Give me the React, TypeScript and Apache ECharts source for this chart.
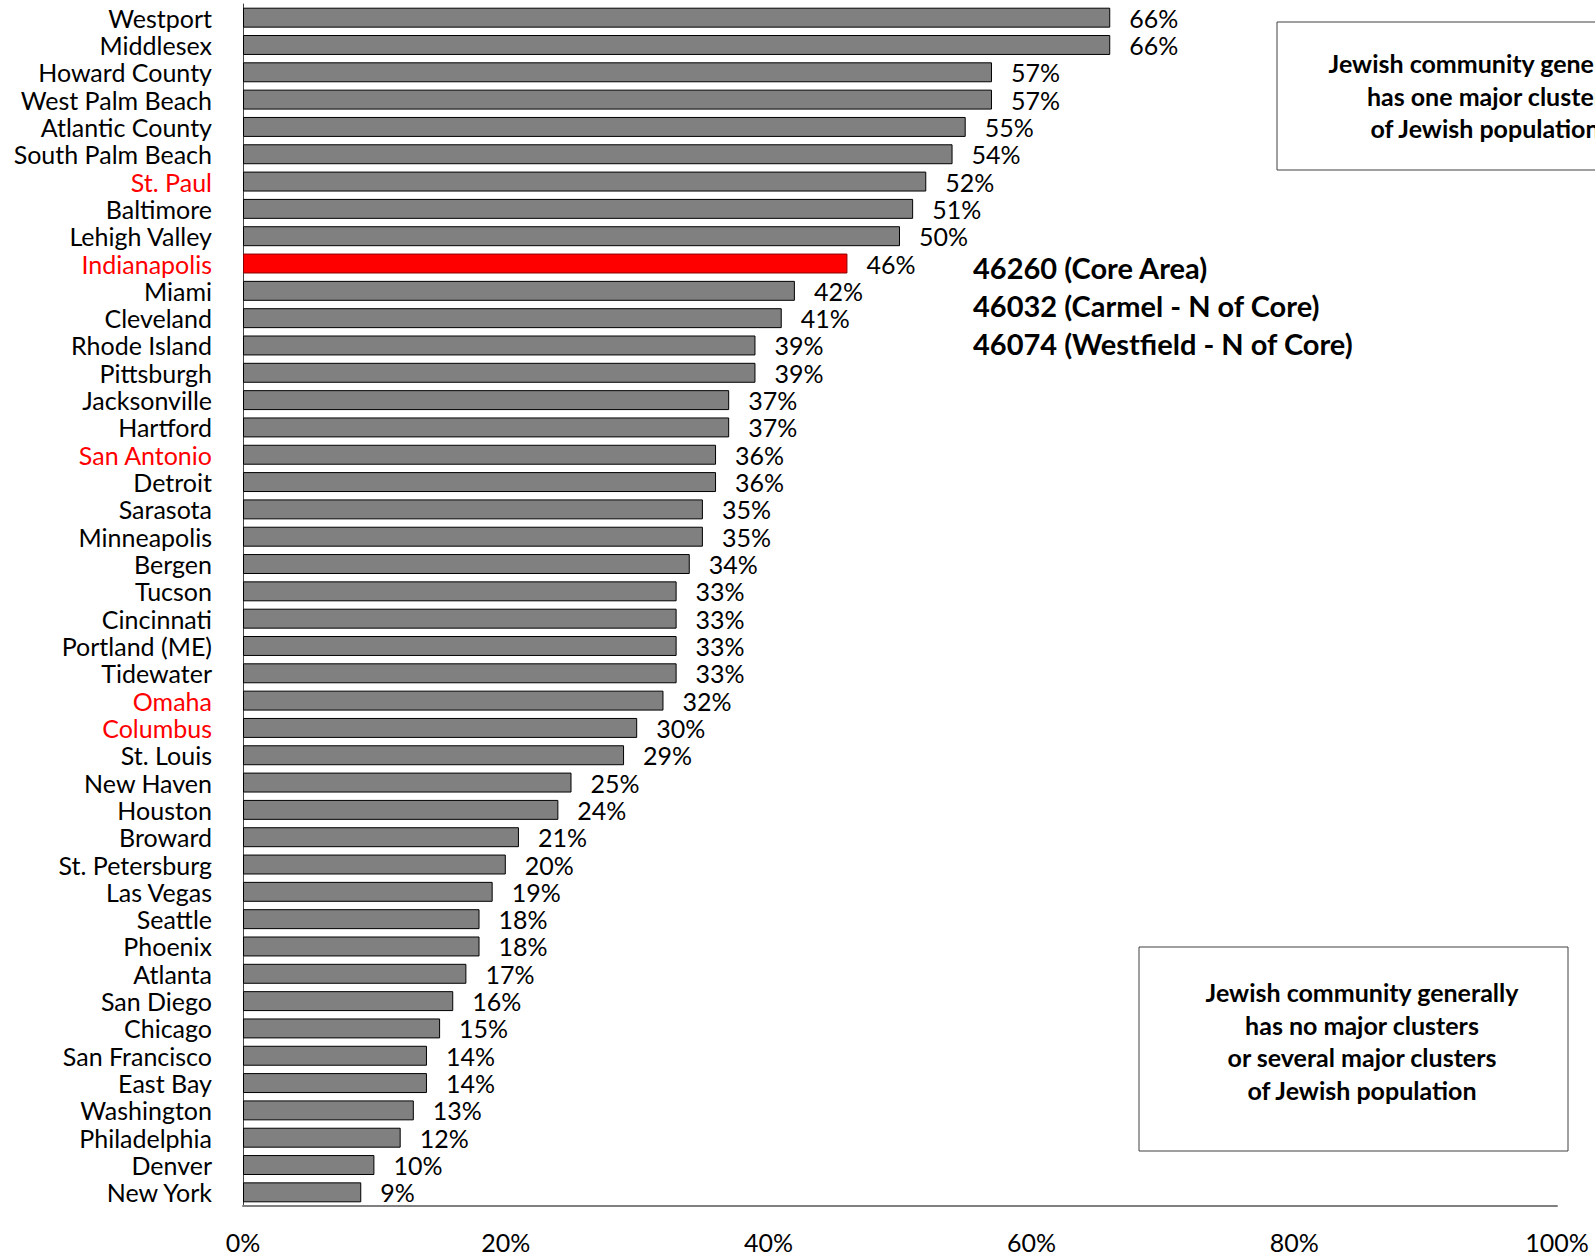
import React, { useEffect, useRef } from "react";
import * as echarts from "echarts";

const categories = [
  "Westport", "Middlesex", "Howard County", "West Palm Beach", "Atlantic County",
  "South Palm Beach", "St. Paul", "Baltimore", "Lehigh Valley", "Indianapolis",
  "Miami", "Cleveland", "Rhode Island", "Pittsburgh", "Jacksonville", "Hartford",
  "San Antonio", "Detroit", "Sarasota", "Minneapolis", "Bergen", "Tucson",
  "Cincinnati", "Portland (ME)", "Tidewater", "Omaha", "Columbus", "St. Louis",
  "New Haven", "Houston", "Broward", "St. Petersburg", "Las Vegas", "Seattle",
  "Phoenix", "Atlanta", "San Diego", "Chicago", "San Francisco", "East Bay",
  "Washington", "Philadelphia", "Denver", "New York",
];

const values = [
  66, 66, 57, 57, 55, 54, 52, 51, 50, 46,
  42, 41, 39, 39, 37, 37, 36, 36, 35, 35,
  34, 33, 33, 33, 33, 32, 30, 29, 25, 24,
  21, 20, 19, 18, 18, 17, 16, 15, 14, 14,
  13, 12, 10, 9,
];

const redLabels = ["St. Paul", "Indianapolis", "San Antonio", "Omaha", "Columbus"];
const redBars = ["Indianapolis"];

const xTicks = [0, 20, 40, 60, 80, 100];

const zipNotes = [
  "46260 (Core Area)",
  "46032 (Carmel - N of Core)",
  "46074 (Westfield - N of Core)",
];

const topBoxLines = [
  "Jewish community generally",
  "has one major cluster",
  "of Jewish population",
];

const bottomBoxLines = [
  "Jewish community generally",
  "has no major clusters",
  "or several major clusters",
  "of Jewish population",
];

const FONT = "Lato, 'Open Sans', sans-serif";

export default function App() {
  const ref = useRef<HTMLDivElement>(null);

  useEffect(() => {
    if (!ref.current) return;
    const chart = echarts.init(ref.current, null, { renderer: "svg" });

    const barData = values.map((v, i) =>
      redBars.includes(categories[i])
        ? { value: v, itemStyle: { color: "#FF0000", borderColor: "#8B0000" } }
        : { value: v }
    );

    const graphics: any[] = [];
    zipNotes.forEach((t, i) => {
      graphics.push({
        type: "text",
        x: 973,
        y: 267 + i * 38,
        style: {
          text: t, fontFamily: FONT, fontSize: 29, fontWeight: "bold", fill: "#000",
          verticalAlign: "middle",
        },
      });
    });
    graphics.push({
      type: "rect",
      shape: { x: 1277, y: 22, width: 420, height: 148 },
      style: { fill: "#fff", stroke: "#404040", lineWidth: 1 },
    });
    topBoxLines.forEach((t, i) => {
      graphics.push({
        type: "text",
        x: 1485,
        y: 63 + i * 32.5,
        style: {
          text: t, fontFamily: FONT, fontSize: 25, fontWeight: "bold", fill: "#000",
          align: "center", verticalAlign: "middle",
        },
      });
    });
    graphics.push({
      type: "rect",
      shape: { x: 1139, y: 947, width: 429, height: 204 },
      style: { fill: "#fff", stroke: "#404040", lineWidth: 1 },
    });
    bottomBoxLines.forEach((t, i) => {
      graphics.push({
        type: "text",
        x: 1362,
        y: 992 + i * 32.5,
        style: {
          text: t, fontFamily: FONT, fontSize: 25, fontWeight: "bold", fill: "#000",
          align: "center", verticalAlign: "middle",
        },
      });
    });

    chart.setOption({
      animation: false,
      backgroundColor: "#fff",
      grid: { left: 243, right: 38, top: 4, bottom: 51, containLabel: false },
      xAxis: {
        type: "value",
        min: xTicks[0],
        max: xTicks[xTicks.length - 1],
        interval: 20,
        axisLine: { show: true, lineStyle: { color: "#808080", width: 2 } },
        axisTick: { show: false },
        splitLine: { show: false },
        axisLabel: {
          formatter: "{value}%",
          margin: 23,
          fontFamily: FONT,
          fontSize: 25,
          color: "#000",
        },
      },
      yAxis: {
        type: "category",
        data: categories,
        inverse: true,
        axisLine: { show: true, lineStyle: { color: "#404040", width: 1 } },
        axisTick: { show: false },
        axisLabel: {
          interval: 0,
          margin: 31,
          fontFamily: FONT,
          fontSize: 25,
          color: (value: string) => (redLabels.includes(value) ? "#FF0000" : "#000"),
        },
      },
      series: [
        {
          type: "bar",
          data: barData,
          barCategoryGap: "27%",
          itemStyle: { color: "#808080", borderColor: "#000", borderWidth: 1 },
          label: {
            show: true,
            position: "right",
            distance: 19,
            formatter: "{c}%",
            fontFamily: FONT,
            fontSize: 25,
            color: "#000",
          },
        },
      ],
      graphic: graphics,
    });

    return () => chart.dispose();
  }, []);

  return (
    <div
      ref={ref}
      style={{ position: "absolute", left: 0, top: 0, width: 1595, height: 1257 }}
    />
  );
}
